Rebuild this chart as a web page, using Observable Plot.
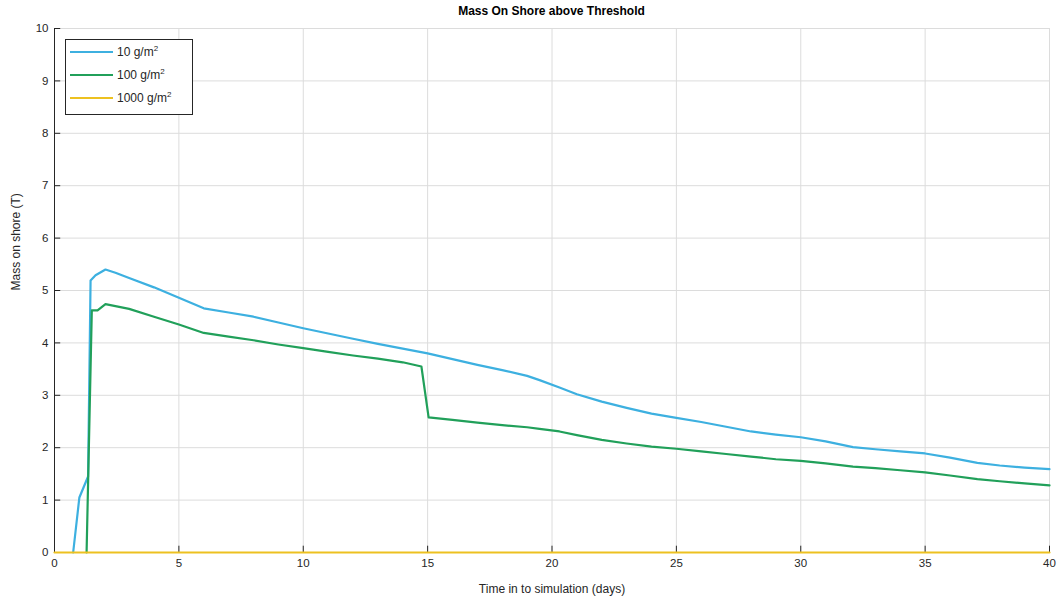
<!DOCTYPE html>
<html>
<head>
<meta charset="utf-8">
<script src="https://cdn.jsdelivr.net/npm/d3@7"></script>
<script src="https://cdn.jsdelivr.net/npm/@observablehq/plot@0.6"></script>
<style>
  html, body { margin: 0; padding: 0; background: #fff; }
  #wrap { position: relative; width: 1059px; height: 600px; font-family: "Liberation Sans", Arial, sans-serif; }
  #title { position: absolute; left: 0; top: 4px; width: 1103px; text-align: center; font-size: 12px; font-weight: bold; color: #000; }
  #legend { position: absolute; left: 65px; top: 39px; width: 128px; height: 76px; border: 1px solid #262626; background: #fff; box-sizing: border-box; font-size: 12px; color: #262626; }
  .row { position: absolute; left: 4px; height: 16px; display: flex; align-items: center; }
  .sw { width: 43px; height: 2.4px; margin-right: 4px; }
  sup { font-size: 8px; line-height: 0; }
</style>
</head>
<body>
<div id="wrap">
  <div id="title">Mass On Shore above Threshold</div>
  <div id="chart" style="position:absolute;left:0;top:20px;"></div>
  <div id="legend"></div>
</div>
<script>
const seriesNames = ["10 g/m2", "100 g/m2", "1000 g/m2"];
const seriesColors = ["#3DB0E0", "#21A05A", "#EDC120"];
const xTicks = [0, 5, 10, 15, 20, 25, 30, 35, 40];
const yTicks = [0, 1, 2, 3, 4, 5, 6, 7, 8, 9, 10];

const t10 =  [0.75, 1.0, 1.35, 1.45, 1.65, 2.05, 2.45, 3, 4, 5, 6, 7, 8, 9, 10, 11, 12, 13, 14, 15, 16, 17, 18, 19, 19.5, 20.3, 21, 22, 23, 24, 25, 26, 27, 28, 29, 30, 31, 32.1, 33, 34, 35, 36, 37.1, 38, 39, 40];
const m10 =  [0, 1.05, 1.45, 5.19, 5.29, 5.40, 5.34, 5.24, 5.06, 4.86, 4.66, 4.58, 4.50, 4.39, 4.28, 4.18, 4.08, 3.98, 3.89, 3.80, 3.69, 3.58, 3.48, 3.37, 3.29, 3.15, 3.02, 2.88, 2.76, 2.65, 2.57, 2.49, 2.40, 2.31, 2.25, 2.20, 2.12, 2.01, 1.97, 1.93, 1.89, 1.81, 1.71, 1.66, 1.62, 1.59];

const t100 = [1.29, 1.5, 1.73, 2.05, 3, 4, 5, 6, 7, 8, 9, 10, 11, 12, 13, 14, 14.75, 15.04, 16, 17, 18, 19, 19.5, 20.3, 21, 22, 23, 24, 25, 26, 27, 28, 29, 30, 31, 32.1, 33, 34, 35, 36, 37.1, 38, 39, 40];
const m100 = [0, 4.62, 4.62, 4.74, 4.65, 4.50, 4.35, 4.19, 4.12, 4.05, 3.97, 3.90, 3.83, 3.76, 3.70, 3.63, 3.55, 2.58, 2.53, 2.48, 2.43, 2.39, 2.36, 2.31, 2.24, 2.15, 2.08, 2.02, 1.98, 1.93, 1.88, 1.83, 1.78, 1.75, 1.70, 1.64, 1.61, 1.57, 1.53, 1.47, 1.40, 1.36, 1.32, 1.28];

const t1000 = [0, 40];
const m1000 = [0, 0];

const rows = [];
[[t10, m10], [t100, m100], [t1000, m1000]].forEach(([ts, ms], i) => {
  ts.forEach((t, j) => rows.push({series: seriesNames[i], t, m: ms[j]}));
});

const axisColor = "#262626";
const chart = Plot.plot({
  width: 1059,
  height: 580,
  marginLeft: 54,
  marginRight: 10,
  marginTop: 8,
  marginBottom: 48,
  style: {fontFamily: "'Liberation Sans', Arial, sans-serif", fontSize: "11.5px", color: axisColor, background: "#fff"},
  x: {domain: [0, 40], ticks: xTicks, tickSize: 0, tickPadding: 6, label: null},
  y: {domain: [0, 10], ticks: yTicks, tickSize: 0, tickPadding: 6, label: null},
  color: {domain: seriesNames, range: seriesColors},
  marks: [
    Plot.gridX(xTicks, {stroke: "#dcdcdc", strokeOpacity: 1}),
    Plot.gridY(yTicks, {stroke: "#dcdcdc", strokeOpacity: 1}),
    Plot.ruleX(xTicks, {x: d => d, y1: 0, y2: 0.12, stroke: axisColor}),
    Plot.ruleY(yTicks, {y: d => d, x1: 0, x2: 0.25, stroke: axisColor}),
    Plot.ruleX([0], {stroke: axisColor}),
    Plot.ruleY([0], {stroke: axisColor}),
    Plot.line(rows, {x: "t", y: "m", z: "series", stroke: "series", strokeWidth: 2.2, curve: "linear"}),
    Plot.axisX({ticks: xTicks, tickSize: 0, tickPadding: 6, label: null}),
    Plot.axisY({ticks: yTicks, tickSize: 0, tickPadding: 6, label: null}),
    Plot.text(["Time in to simulation (days)"], {frameAnchor: "bottom", dy: 40, fontSize: 12, fill: axisColor}),
    Plot.text(["Mass on shore (T)"], {frameAnchor: "left", dx: -38, rotate: -90, fontSize: 12, fill: axisColor})
  ]
});
document.getElementById("chart").appendChild(chart);

const legend = document.getElementById("legend");
const labels = ["10 g/m", "100 g/m", "1000 g/m"];
labels.forEach((lab, i) => {
  const row = document.createElement("div");
  row.className = "row";
  row.style.top = (4 + i * 23) + "px";
  row.innerHTML = `<div class="sw" style="background:${seriesColors[i]}"></div><span>${lab}<sup>2</sup></span>`;
  legend.appendChild(row);
});
</script>
</body>
</html>
